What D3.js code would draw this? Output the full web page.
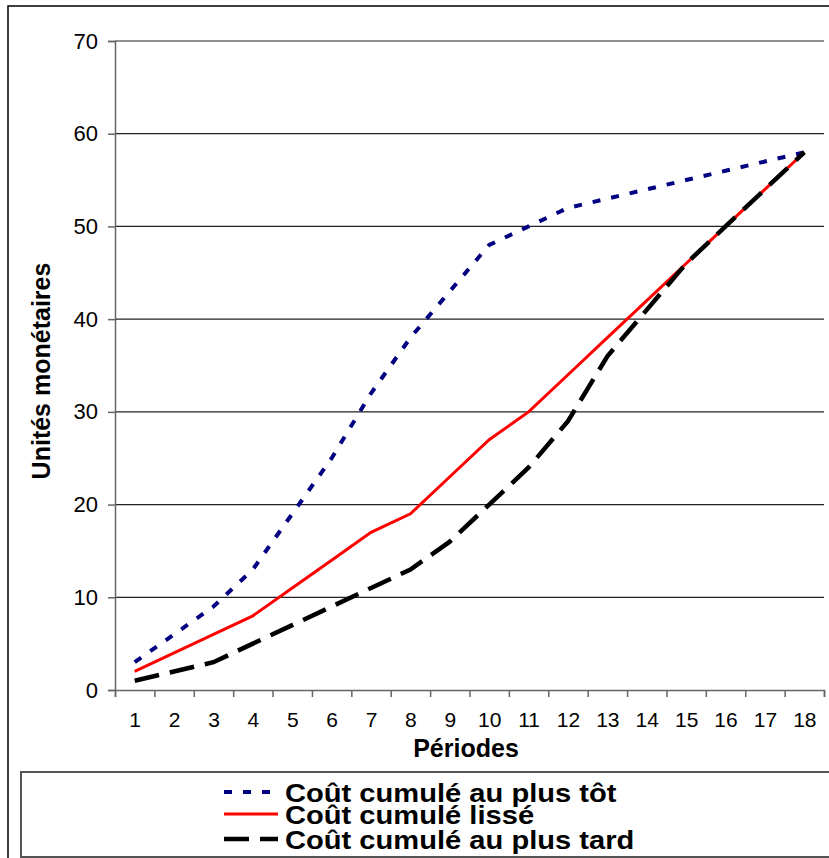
<!DOCTYPE html>
<html>
<head>
<meta charset="utf-8">
<script src="https://cdn.jsdelivr.net/npm/d3@7"></script>
<style>
  html, body { margin: 0; padding: 0; background: #fff; }
  svg { display: block; font-family: "Liberation Sans", Arial, sans-serif; }
</style>
</head>
<body>
<svg id="chart" width="829" height="858"></svg>
<script>
const periods = [1,2,3,4,5,6,7,8,9,10,11,12,13,14,15,16,17,18];
const coutPlusTot = [3,6,9,13,19,25,32,38,43,48,50,52,53,54,55,56,57,58];
const coutLisse   = [2,4,6,8,11,14,17,19,23,27,30,34,38,42,46,50,54,58];
const coutPlusTard= [1,2,3,5,7,9,11,13,16,20,24,29,36,41,46,50,54,58];
const yTicks = [0,10,20,30,40,50,60,70];
const seriesNames = ["Coût cumulé au plus tôt","Coût cumulé lissé","Coût cumulé au plus tard"];
const xTitle = "Périodes";
const yTitle = "Unités monétaires";

const series = [
  {name: seriesNames[0], values: coutPlusTot, color: "#000080", width: 4, dash: "8,11"},
  {name: seriesNames[1], values: coutLisse, color: "#FF0000", width: 3, dash: null},
  {name: seriesNames[2], values: coutPlusTard, color: "#000000", width: 4.5, dash: "25,11"}
];

const svg = d3.select("#chart");
const pLeft = 115, pRight = 824, pTop = 41, pBottom = 690;

// outer border
svg.append("rect").attr("x", 8).attr("y", 6).attr("width", 840).attr("height", 870)
  .attr("fill", "none").attr("stroke", "#000").attr("stroke-width", 1.5);

const x = d3.scaleLinear().domain([0.5, 18.5]).range([pLeft, pRight]);
const y = d3.scaleLinear().domain([0, 70]).range([pBottom, pTop]);

// gridlines
svg.append("g").selectAll("line").data(yTicks.filter(t => t > 0)).join("line")
  .attr("x1", pLeft).attr("x2", pRight)
  .attr("y1", d => y(d)).attr("y2", d => y(d))
  .attr("stroke", "#222").attr("stroke-width", 1.2);

// y axis
const yAxis = svg.append("g").attr("transform", `translate(${pLeft},0)`)
  .call(d3.axisLeft(y).tickValues(yTicks).tickSize(7).tickPadding(10));
yAxis.select(".domain").attr("stroke", "#666").attr("stroke-width", 1.5);
yAxis.selectAll(".tick line").attr("stroke", "#666").attr("stroke-width", 1.5);
yAxis.selectAll(".tick text").attr("font-size", 22).attr("fill", "#000")
  .attr("font-family", "Liberation Sans, Arial, sans-serif");

// x axis: tick marks at category boundaries
const xAxisTicks = svg.append("g").attr("transform", `translate(0,${pBottom})`)
  .call(d3.axisBottom(x).tickValues(d3.range(0.5, 19, 1)).tickSize(7).tickFormat(""));
xAxisTicks.select(".domain").attr("stroke", "#666").attr("stroke-width", 1.5);
xAxisTicks.selectAll(".tick line").attr("stroke", "#666").attr("stroke-width", 1.5);

// x labels at category centers
const xLabels = svg.append("g").attr("transform", `translate(0,${pBottom})`)
  .call(d3.axisBottom(x).tickValues(periods).tickSize(0).tickPadding(22).tickFormat(d3.format("d")));
xLabels.select(".domain").remove();
xLabels.selectAll(".tick text").attr("font-size", 21).attr("fill", "#000")
  .attr("font-family", "Liberation Sans, Arial, sans-serif");

// titles
svg.append("text").attr("x", 466).attr("y", 757).attr("text-anchor", "middle")
  .attr("font-size", 25).attr("font-weight", "bold").text(xTitle);
svg.append("text").attr("transform", "translate(50,371) rotate(-90)").attr("text-anchor", "middle")
  .attr("font-size", 25).attr("font-weight", "bold").text(yTitle);

// lines
const line = d3.line().x((d, i) => x(periods[i])).y(d => y(d));
series.forEach(s => {
  svg.append("path").datum(s.values).attr("d", line)
    .attr("fill", "none").attr("stroke", s.color).attr("stroke-width", s.width)
    .attr("stroke-dasharray", s.dash).attr("stroke-linejoin", "miter");
});

// legend
svg.append("rect").attr("x", 21).attr("y", 772).attr("width", 830).attr("height", 85)
  .attr("fill", "none").attr("stroke", "#555").attr("stroke-width", 2);
const legendY = [792, 814, 839];
series.forEach((s, i) => {
  svg.append("line").attr("x1", 224).attr("x2", 278).attr("y1", legendY[i]).attr("y2", legendY[i])
    .attr("stroke", s.color).attr("stroke-width", s.width).attr("stroke-dasharray", s.dash);
  const by = legendY[i] + 10;
  svg.append("text").attr("x", 0).attr("y", 0)
    .attr("transform", `translate(285,${by}) scale(1.12,1)`)
    .attr("font-size", 26).attr("font-weight", "bold").attr("fill", "#000").text(s.name);
});
</script>
</body>
</html>
